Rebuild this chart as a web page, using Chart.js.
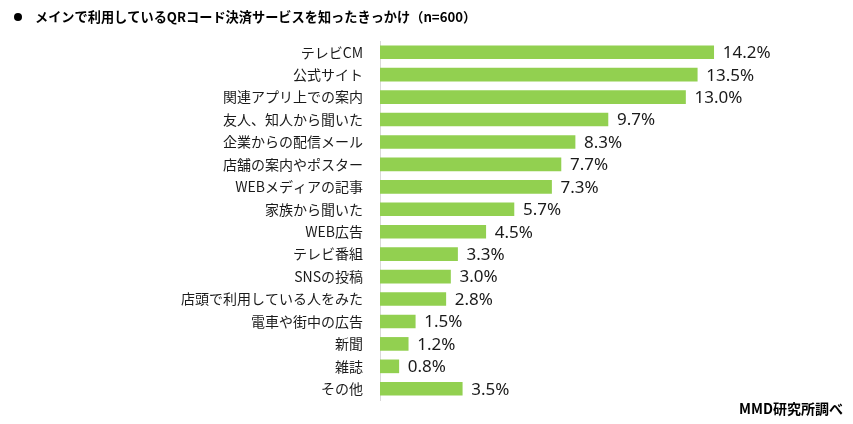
<!DOCTYPE html>
<html>
<head>
<meta charset="utf-8">
<script src="https://cdn.jsdelivr.net/npm/chart.js@4"></script>
<style>
  html, body { margin: 0; padding: 0; background: #fff; }
  #wrap { position: relative; width: 853px; height: 424px; }
</style>
</head>
<body>
<div id="wrap"><canvas id="chart" width="853" height="424"></canvas></div>
<script>
    // Chart data
    const titleText = 'メインで利用しているQRコード決済サービスを知ったきっかけ（n=600）';
    const sourceText = 'MMD研究所調べ';
    const categories = ['テレビCM', '公式サイト', '関連アプリ上での案内', '友人、知人から聞いた', '企業からの配信メール',
        '店舗の案内やポスター', 'WEBメディアの記事', '家族から聞いた', 'WEB広告', 'テレビ番組', 'SNSの投稿',
        '店頭で利用している人をみた', '電車や街中の広告', '新聞', '雑誌', 'その他'];
    const values = [14.2, 13.5, 13.0, 9.7, 8.3, 7.7, 7.3, 5.7, 4.5, 3.3, 3.0, 2.8, 1.5, 1.2, 0.8, 3.5];

    const cjkFont = '"Noto Sans CJK JP", "Noto Sans", sans-serif';

    // value labels + title + source text
    const extrasPlugin = {
        id: 'extras',
        afterDatasetsDraw(chart) {
            const ctx = chart.ctx;
            const meta = chart.getDatasetMeta(0);
            ctx.save();
            ctx.fillStyle = '#1a1a1a';
            ctx.font = '17px "Noto Sans", sans-serif';
            ctx.textBaseline = 'middle';
            ctx.textAlign = 'left';
            meta.data.forEach((bar, i) => {
                ctx.fillText(values[i].toFixed(1) + '%', bar.x + 9, bar.y + 1);
            });
            ctx.restore();
        },
        afterDraw(chart) {
            const ctx = chart.ctx;
            ctx.save();
            ctx.fillStyle = '#000';
            ctx.beginPath();
            ctx.arc(18, 17, 4, 0, Math.PI * 2);
            ctx.fill();
            ctx.font = 'bold 13.2px ' + cjkFont;
            ctx.textBaseline = 'middle';
            ctx.fillText(titleText, 35, 17);
            ctx.textAlign = 'right';
            ctx.font = 'bold 14px ' + cjkFont;
            ctx.fillText(sourceText, 843, 409);
            ctx.restore();
        }
    };

    const ctx = document.getElementById('chart').getContext('2d');
    new Chart(ctx, {
        type: 'bar',
        data: {
            labels: categories,
            datasets: [{
                data: values,
                backgroundColor: '#92D050',
                barThickness: 13
            }]
        },
        options: {
            indexAxis: 'y',
            responsive: false,
            animation: false,
            layout: { padding: { top: 41, bottom: 24, left: 0, right: 97 } },
            plugins: { legend: { display: false }, tooltip: { enabled: false } },
            scales: {
                x: { display: false, min: 0, max: 16 },
                y: {
                    afterFit(scale) { scale.width = 380; },
                    grid: { display: false },
                    border: { display: true, color: '#d9d9d9', width: 1 },
                    ticks: { color: '#1a1a1a', font: { family: cjkFont, size: 14 }, padding: 9 }
                }
            }
        },
        plugins: [extrasPlugin]
    });
</script>
</body>
</html>
